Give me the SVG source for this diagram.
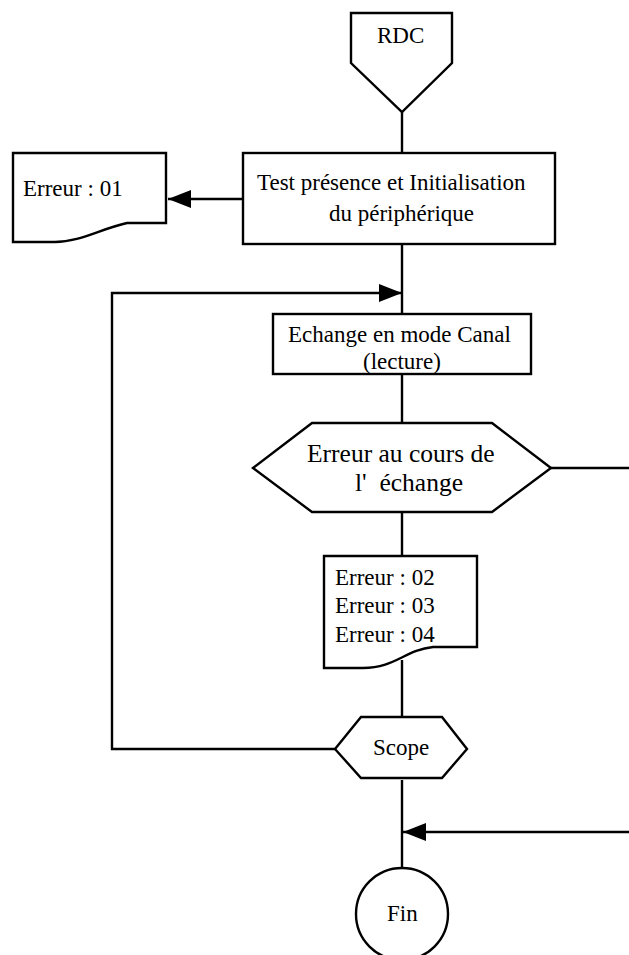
<svg xmlns="http://www.w3.org/2000/svg" width="629" height="955" viewBox="0 0 629 955">
  <style>
    .shape { fill: #ffffff; stroke: #000000; stroke-width: 2.4; }
    .wire { fill: none; stroke: #000000; stroke-width: 2.4; }
    text { font-family: "Liberation Serif", "Times New Roman", serif; font-size: 23px; fill: #000000; }
    .big { font-size: 25.5px; }
  </style>
  <defs>
    <marker id="arrow" markerUnits="userSpaceOnUse" markerWidth="24" markerHeight="20" refX="23" refY="9" orient="auto">
      <path d="M0,0 L23,9 L0,18 Z" fill="#000000"/>
    </marker>
  </defs>

  <g id="connectors">
    <line class="wire" x1="402" y1="112" x2="402" y2="153"/>
    <line class="wire" x1="243" y1="199" x2="168" y2="199" marker-end="url(#arrow)"/>
    <line class="wire" x1="402" y1="244" x2="402" y2="314"/>
    <polyline class="wire" points="335,749 112,749 112,293 402,293" marker-end="url(#arrow)"/>
    <line class="wire" x1="402" y1="374" x2="402" y2="423"/>
    <line class="wire" x1="551" y1="468" x2="632" y2="468"/>
    <line class="wire" x1="402" y1="512" x2="402" y2="556"/>
    <line class="wire" x1="402" y1="660" x2="402" y2="717"/>
    <line class="wire" x1="402" y1="780" x2="402" y2="868"/>
    <line class="wire" x1="632" y1="832" x2="403" y2="832" marker-end="url(#arrow)"/>
  </g>

  <g id="rdc">
    <polygon class="shape" points="351,13 452,13 452,63 402,112 351,63"/>
    <text x="377" y="43">RDC</text>
  </g>

  <g id="test-init">
    <rect class="shape" x="243" y="153" width="312" height="91"/>
    <text x="257" y="190">Test présence et Initialisation</text>
    <text x="329" y="221">du périphérique</text>
  </g>

  <g id="erreur-01">
    <path class="shape" d="M13,153 L166,153 L166,223 L127,223 C100,229 80,242 55,242 L13,242 Z"/>
    <text x="23" y="196">Erreur : 01</text>
  </g>

  <g id="echange">
    <rect class="shape" x="273" y="314" width="258" height="60"/>
    <text x="288" y="342">Echange en mode Canal</text>
    <text x="363" y="369">(lecture)</text>
  </g>

  <g id="erreur-echange">
    <polygon class="shape" points="253,468 312,423 492,423 551,468 492,512 312,512"/>
    <text class="big" x="307" y="462">Erreur au cours de</text>
    <text class="big" x="355" y="491" xml:space="preserve">l'  échange</text>
  </g>

  <g id="erreurs-02-04">
    <path class="shape" d="M324,556 L477,556 L477,647 L433,647 C405,650 395,668 363,668 L324,668 Z"/>
    <text x="335" y="585">Erreur : 02</text>
    <text x="335" y="613">Erreur : 03</text>
    <text x="335" y="642">Erreur : 04</text>
  </g>

  <g id="scope">
    <polygon class="shape" points="335,749 361,717 442,717 467,749 442,778 361,778"/>
    <text x="373" y="755">Scope</text>
  </g>

  <g id="fin">
    <circle class="shape" cx="402" cy="914" r="46"/>
    <text x="387" y="921">Fin</text>
  </g>
</svg>
